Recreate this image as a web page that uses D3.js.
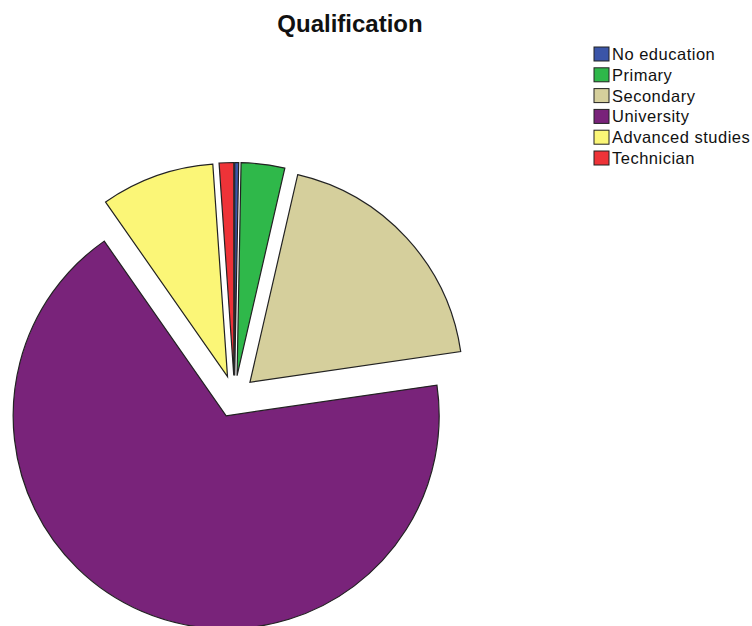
<!DOCTYPE html>
<html>
<head>
<meta charset="utf-8">
<script src="https://cdn.jsdelivr.net/npm/d3@7"></script>
<style>
  body { margin: 0; background: #fff; }
  svg { display: block; font-family: "Liberation Sans", Arial, sans-serif; }
</style>
</head>
<body>
<svg width="752" height="626"></svg>
<script>
// data (percent of respondents)
var categories = ["No education", "Primary", "Secondary", "University", "Advanced studies", "Technician"];
var values = [0.3, 3.3, 19.1, 67.6, 8.6, 1.1];
var colors = ["#3b55a8", "#2fb84a", "#d5cf9c", "#79237a", "#fbf677", "#ee3338"];

function main() {
    var svg = d3.select("svg");
    var cx = 234.5, cy = 396.5;
    var radius = 213;
    var explode = 21;

    var data = categories.map(function(c, i) {
        return { name: c, value: values[i], color: colors[i] };
    });

    var pie = d3.pie()
        .sort(null)
        .value(d => d.value);

    var arc = d3.arc()
        .innerRadius(0)
        .outerRadius(radius);

    var g = svg.append("g")
        .attr("transform", "translate(" + cx + "," + cy + ")");

    // every slice pulled out along its bisector
    g.selectAll("path")
        .data(pie(data))
        .enter()
        .append("path")
        .attr("d", arc)
        .attr("fill", d => d.data.color)
        .attr("stroke", "#222")
        .attr("stroke-width", 1.2)
        .attr("stroke-linejoin", "miter")
        .attr("transform", function(d) {
            var a = (d.startAngle + d.endAngle) / 2;
            return "translate(" + (explode * Math.sin(a)) + "," + (-explode * Math.cos(a)) + ")";
        });

    // title
    svg.append("text")
        .attr("x", 350)
        .attr("y", 32)
        .attr("text-anchor", "middle")
        .attr("font-size", 24)
        .attr("font-weight", "bold")
        .attr("fill", "#111")
        .text("Qualification");

    // legend
    var legend = svg.append("g")
        .attr("transform", "translate(594,47)");

    var rows = legend.selectAll("g")
        .data(data)
        .enter()
        .append("g")
        .attr("transform", (d, i) => "translate(0," + (i * 20.8) + ")");

    rows.append("rect")
        .attr("width", 15)
        .attr("height", 14)
        .attr("fill", d => d.color)
        .attr("stroke", "#222")
        .attr("stroke-width", 1);

    rows.append("text")
        .attr("x", 18)
        .attr("y", 13)
        .attr("font-size", 16.5)
        .attr("letter-spacing", 0.5)
        .attr("fill", "#111")
        .text(d => d.name);
}
main();
</script>
</body>
</html>
